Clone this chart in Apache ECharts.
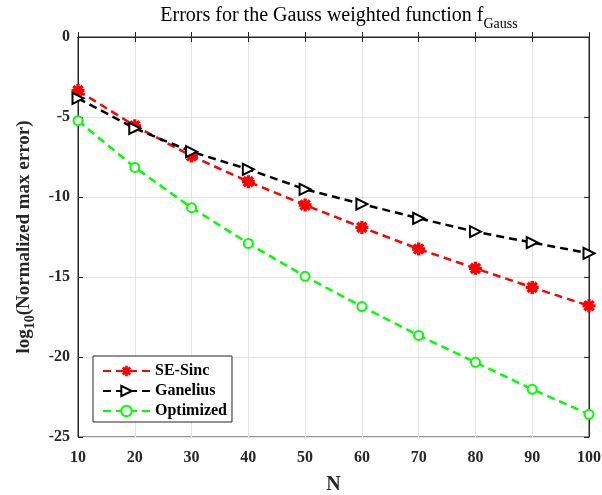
<!DOCTYPE html>
<html><head><meta charset="utf-8">
<script src="https://cdn.jsdelivr.net/npm/echarts@6/dist/echarts.min.js"></script>
<style>html,body{margin:0;padding:0;background:#fff}#c{width:602px;height:495px}</style>
</head><body><div id="c"></div>
<script>
const N = [10, 20, 30, 40, 50, 60, 70, 80, 90, 100];
const seSinc = [-3.35, -5.55, -7.44, -9.04, -10.5, -11.9, -13.25, -14.46, -15.65, -16.8];
const ganelius = [-3.83, -5.71, -7.17, -8.27, -9.52, -10.44, -11.33, -12.17, -12.85, -13.52];
const optimized = [-5.23, -8.15, -10.67, -12.9, -14.96, -16.85, -18.65, -20.33, -22.02, -23.58];
const names = ['SE-Sinc', 'Ganelius', 'Optimized'];

const FONT = '"Liberation Serif", "DejaVu Serif", serif';
const asterisk = 'path://M1 7.7L19 7.7L19 12.3L1 12.3Z M7.7 1L12.3 1L12.3 19L7.7 19Z M5.25 2.0L18.0 14.75L14.75 18.0L2.0 5.25Z M2.0 14.75L14.75 2.0L18.0 5.25L5.25 18.0Z';

const pairs = a => N.map((n, i) => [n, a[i]]);
const chart = echarts.init(document.getElementById('c'));
const grid = {left: 78, right: 13, top: 37, bottom: 58, outerBoundsMode: 'none', containLabel: false,
  show: true, borderColor: '#262626', borderWidth: 1, backgroundColor: '#fff'};
const lbl = {fontFamily: FONT, fontWeight: 'bold', fontSize: 16, color: '#262626'};
chart.setOption({
  animation: false,
  title: {
    text: '{a|Errors for the Gauss weighted function f}{s|Gauss}',
    left: 334, top: -4, textAlign: 'center',
    textStyle: {rich: {
      a: {fontFamily: FONT, fontSize: 20, color: '#000', fontWeight: 'normal'},
      s: {fontFamily: FONT, fontSize: 14, color: '#000', fontWeight: 'normal', padding: [16, 0, 0, 0]}
    }}
  },
  grid: grid,
  legend: {
    orient: 'vertical', left: 93, top: 356, data: names,
    backgroundColor: '#fff', borderColor: '#262626', borderWidth: 1,
    padding: [7, 5, 3, 9], itemWidth: 47, itemHeight: 13, itemGap: 4,
    textStyle: {fontFamily: FONT, fontWeight: 'bold', fontSize: 16, color: '#000'}
  },
  xAxis: [{
    type: 'value', min: 10, max: 100, interval: 10,
    name: 'N', nameLocation: 'middle', nameGap: 38,
    nameTextStyle: {fontFamily: FONT, fontWeight: 'bold', fontSize: 20, color: '#262626'},
    axisLine: {lineStyle: {color: '#262626'}},
    axisTick: {inside: true, length: 5, lineStyle: {color: '#262626'}},
    axisLabel: Object.assign({margin: 13}, lbl),
    splitLine: {show: true, lineStyle: {color: '#e3e3e3', width: 1}}
  }, {
    type: 'value', position: 'top', min: 10, max: 100, interval: 10,
    axisLine: {lineStyle: {color: '#262626'}},
    axisTick: {inside: true, length: 5, lineStyle: {color: '#262626'}},
    axisLabel: {show: false}, splitLine: {show: false}
  }],
  yAxis: [{
    type: 'value', min: -25, max: 0, interval: 5,
    name: '{b|log}{s|10}{b|(Normalized max error)}', nameLocation: 'middle', nameGap: 40, nameRotate: 90,
    nameTextStyle: {rich: {
      b: {fontFamily: FONT, fontWeight: 'bold', fontSize: 19, color: '#262626'},
      s: {fontFamily: FONT, fontWeight: 'bold', fontSize: 14, color: '#262626', padding: [14, 0, 0, 0]}
    }},
    axisLine: {show: true, lineStyle: {color: '#262626'}},
    axisTick: {show: true, inside: true, length: 5, lineStyle: {color: '#262626'}},
    axisLabel: Object.assign({margin: 8}, lbl),
    splitLine: {show: true, lineStyle: {color: '#e3e3e3', width: 1}}
  }, {
    type: 'value', position: 'right', min: -25, max: 0, interval: 5,
    axisLine: {show: true, lineStyle: {color: '#262626'}},
    axisTick: {show: true, inside: true, length: 5, lineStyle: {color: '#262626'}},
    axisLabel: {show: false}, splitLine: {show: false}
  }],
  series: [{
    name: names[0], type: 'line', data: pairs(seSinc),
    symbol: asterisk, symbolSize: 13,
    itemStyle: {color: '#ff0000'},
    lineStyle: {color: '#ff0000', width: 2.5, type: [8, 5]}
  }, {
    name: names[1], type: 'line', data: pairs(ganelius),
    symbol: 'emptyTriangle', symbolSize: 11, symbolRotate: -90,
    itemStyle: {color: '#000', borderWidth: 2.8},
    lineStyle: {color: '#000', width: 2.5, type: [8, 5]}
  }, {
    name: names[2], type: 'line', data: pairs(optimized),
    symbol: 'emptyCircle', symbolSize: 9,
    itemStyle: {color: '#00ff00', borderWidth: 2.8},
    lineStyle: {color: '#00ff00', width: 2.5, type: [8, 5]}
  }]
});
</script></body></html>
